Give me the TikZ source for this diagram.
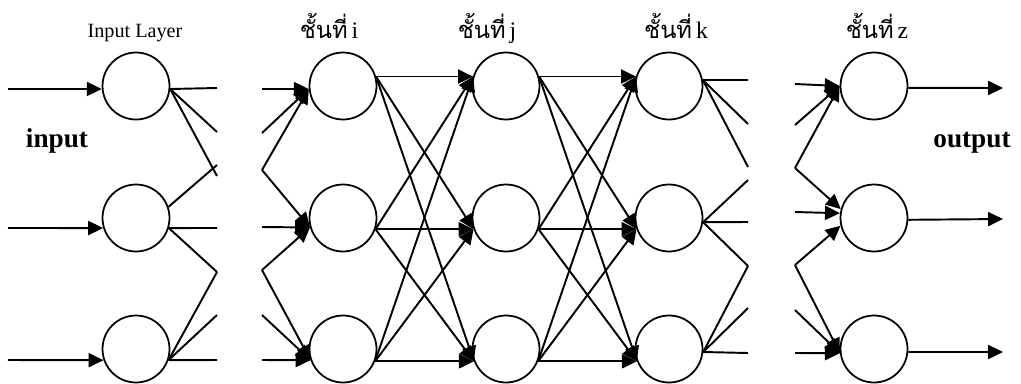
\documentclass[tikz,border=0pt]{standalone}
\usepackage{fontspec}
\setmainfont{Liberation Serif}
\newfontfamily\thaifont[Script=Thai]{Loma}
\usetikzlibrary{arrows.meta}
\tikzset{
  neuron/.style={circle,draw,line width=1pt,minimum size=1.34cm,inner sep=0pt},
  arr/.style={-{Triangle[length=8.5pt,width=8pt]},line width=1.1pt},
  lnk/.style={line width=1.1pt},
  layername/.style={anchor=base,font=\fontsize{11.5}{13}\selectfont},
  thailabel/.style={anchor=base,font=\fontsize{13.5}{15}\selectfont},
  iolabel/.style={anchor=base,font=\fontsize{15.5}{18}\selectfont\bfseries}
}
\newcommand{\layerlbl}[1]{{\thaifont ชั้นที่}\,#1}

\begin{document}
\begin{tikzpicture}[x=0.02cm,y=-0.02cm]
\useasboundingbox (0,0) rectangle (1021,383);

% neurons
\foreach \c/\x in {in/136,i/343,j/506,k/669,z/874}
  \foreach \r/\y in {1/86,2/218,3/349}
    \node[neuron] (\c\r) at (\x,\y) {};

% labels
\node[layername] (lin) at (135,37) {Input Layer};
\node[thailabel] (li) at (329,38) {\layerlbl{i}};
\node[thailabel] (lj) at (487,38) {\layerlbl{j}};
\node[thailabel] (lk) at (676,38) {\layerlbl{k}};
\node[thailabel] (lz) at (877,38) {\layerlbl{z}};
\node[iolabel] (input) at (57,147) {input};
\node[iolabel] (output) at (972,147) {output};

% loose ends
\foreach \n/\y in {1/89,2/228,3/360}
  \coordinate (s\n) at (8,\y);
\foreach \n/\y in {1/88,2/132,3/176,4/165,5/228,6/272,7/315,8/360}
  \coordinate (a\n) at (217,\y);
\foreach \n/\y in {1/89,2/133,3/170,4/227,5/270,6/315,7/360}
  \coordinate (b\n) at (262,\y);
\foreach \n/\y in {1/80,2/124,3/167,4/180,5/222,6/266,7/308,8/353}
  \coordinate (c\n) at (748,\y);
\foreach \n/\y in {1/84,2/125,3/168,4/212,5/265,6/310,7/353}
  \coordinate (d\n) at (795,\y);
\foreach \n/\y in {1/88,2/219,3/352}
  \coordinate (t\n) at (1003,\y);

% input side
\draw[arr] (s1) -- (in1.185);
\draw[arr] (s2) -- (in2.197);
\draw[arr] (s3) -- (in3.199);
\foreach \e in {1,2,3} \draw[lnk] (in1.-5) -- (a\e);
\draw[lnk] (in2.19) -- (a4);
\foreach \e in {5,6} \draw[lnk] (in2.-17) -- (a\e);
\foreach \e in {6,7,8} \draw[lnk] (in3.-19) -- (a\e);

% into layer i
\foreach \e in {1,2,3} \draw[arr] (b\e) -- (i1.185);
\foreach \e in {3,4,5} \draw[arr] (b\e) -- (i2.196);
\foreach \e in {5,6,7} \draw[arr] (b\e) -- (i3.199);

% i -> j -> k, fully connected
\foreach \a/\pa in {1/16,2/-19,3/-21}
  \foreach \b/\pb in {1/164,2/199,3/201}
  {\draw[arr] (i\a.\pa) -- (j\b.\pb);
   \draw[arr] (j\a.\pa) -- (k\b.\pb);}

% out of layer k
\foreach \e in {1,2,3} \draw[lnk] (k1.10) -- (c\e);
\foreach \e in {4,5,6} \draw[lnk] (k2.-7) -- (c\e);
\foreach \e in {6,7,8} \draw[lnk] (k3.-5) -- (c\e);

% into layer z
\foreach \e in {1,2,3} \draw[arr] (d\e) -- (z1.180);
\draw[arr] (d3) -- (z2.165);
\draw[arr] (d4) -- (z2.172);
\draw[arr] (d5) -- (z2.193);
\foreach \e in {5,6,7} \draw[arr] (d\e) -- (z3.187);

% output side
\draw[arr] (z1.-3) -- (t1);
\draw[arr] (z2.-3) -- (t2);
\draw[arr] (z3.-5) -- (t3);
\end{tikzpicture}
\end{document}
